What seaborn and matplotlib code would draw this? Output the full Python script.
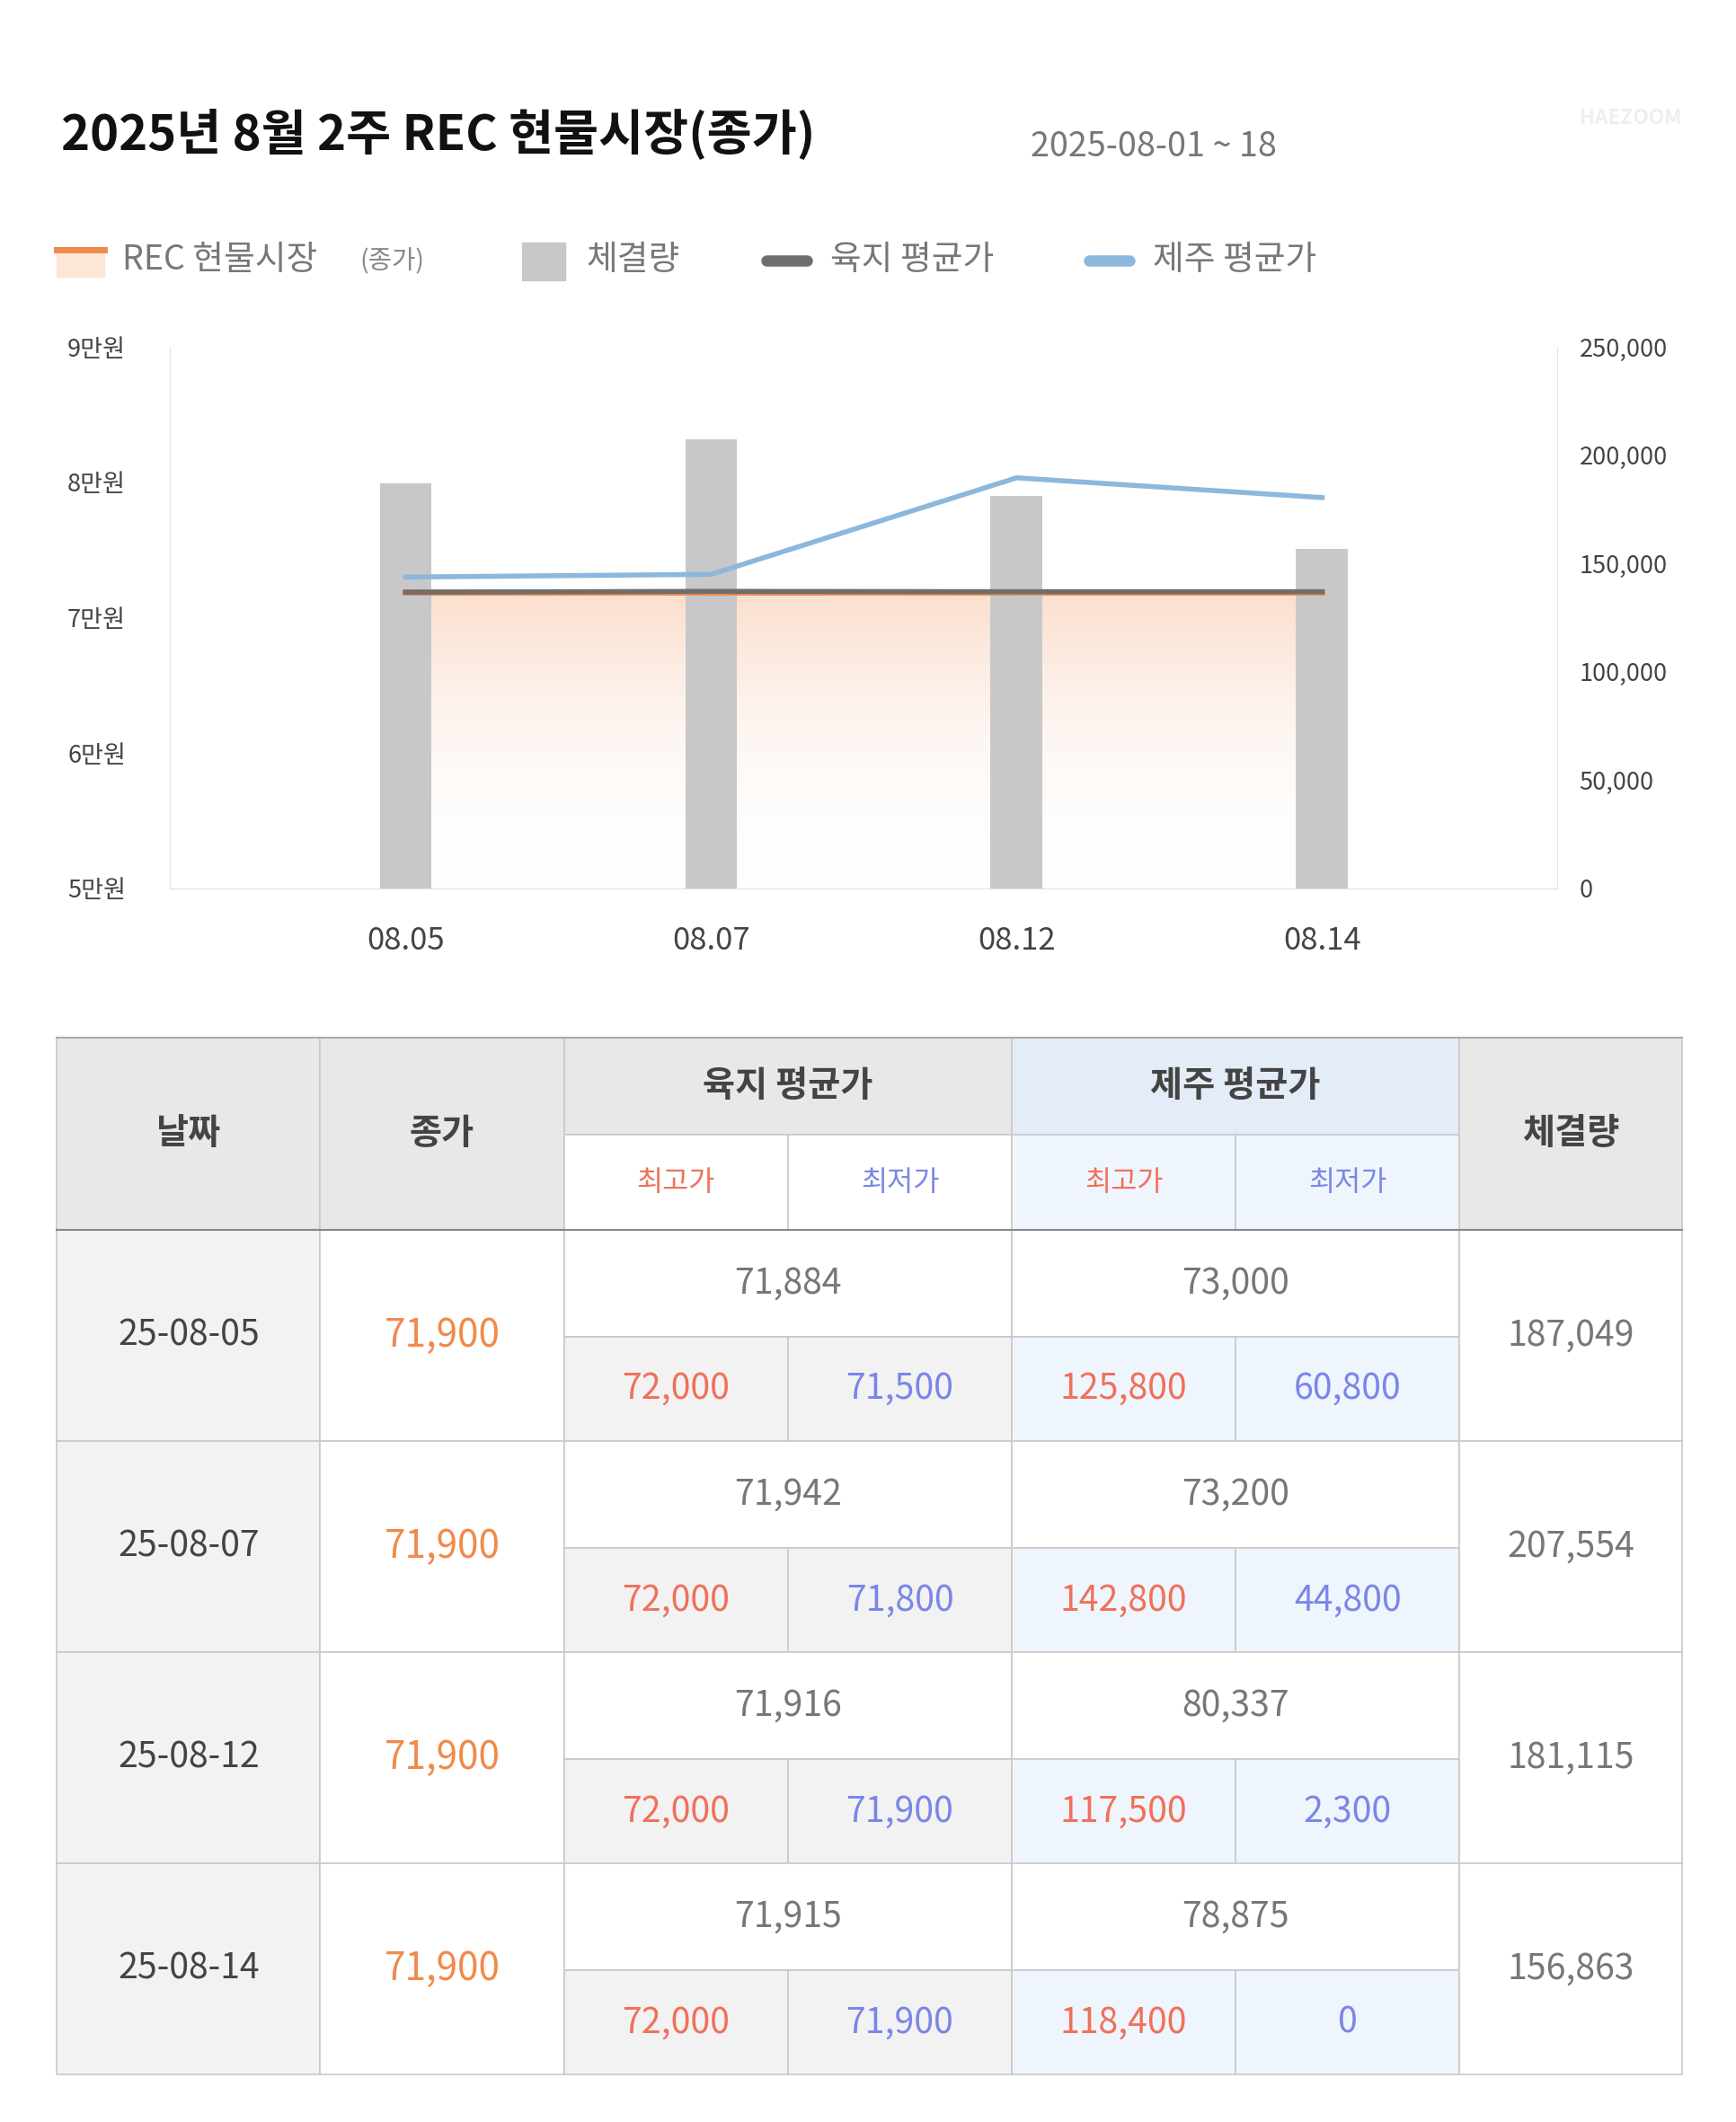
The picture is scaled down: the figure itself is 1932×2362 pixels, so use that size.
import numpy as np
import pandas as pd
import matplotlib
matplotlib.use("Agg")
import matplotlib.pyplot as plt
import seaborn as sns
from matplotlib.patches import Rectangle

plt.rcParams["font.family"] = ["Noto Sans CJK KR", "Noto Sans CJK JP", "Noto Sans CJK SC", "DejaVu Sans"]

dates = ["08.05", "08.07", "08.12", "08.14"]
full_dates = ["25-08-05", "25-08-07", "25-08-12", "25-08-14"]
close = [71900, 71900, 71900, 71900]
volume = [187049, 207554, 181115, 156863]
land_avg = [71884, 71942, 71916, 71915]
land_hi = [72000, 72000, 72000, 72000]
land_lo = [71500, 71800, 71900, 71900]
jeju_avg = [73000, 73200, 80337, 78875]
jeju_hi = [125800, 142800, 117500, 118400]
jeju_lo = [60800, 44800, 2300, 0]

W, H = 1280, 1565  # layout units (scaled to 1932x2362 px)
fig = plt.figure(figsize=(19.32, 23.62), dpi=100)
S = 1.509 * 0.72  # layout px -> pt

def fx(x): return x / W
def fy(y): return 1 - y / H

# ---------- chart ----------
ax = fig.add_axes([fx(125), fy(655), fx(1148 - 125), (655 - 256) / H])
df = pd.DataFrame({"date": dates, "volume": volume})
sns.barplot(data=df, x="date", y="volume", color="#c8c8c8", width=0.17,
            saturation=1, ax=ax, zorder=2)
xs = np.arange(len(dates))
grad = np.linspace(0, 1, 256).reshape(-1, 1)
cmap = matplotlib.colors.LinearSegmentedColormap.from_list(
    "g", [(1, 1, 1, 0.0), (0.98, 0.83, 0.74, 0.75)])
ax.imshow(grad, extent=[0, 3, 0, (max(close) - 50000) / 40000 * 250000],
          origin="lower", aspect="auto", cmap=cmap, zorder=1)
ax.set_ylim(0, 250000)
ax.set_xlim(-0.773, 3.769)
ax.set_xlabel(""); ax.set_ylabel("")
ax.spines["top"].set_visible(False)
for s in ["left", "right", "bottom"]:
    ax.spines[s].set_color("#e2e2e2")

ax2 = ax.twinx()
ax.yaxis.tick_right()
ax.set_yticks(range(0, 250001, 50000))
ax.set_yticklabels([f"{v:,}" for v in range(0, 250001, 50000)])
ax.tick_params(axis="y", length=0, labelsize=18 * S, labelcolor="#444", pad=18)
ax.tick_params(axis="x", length=0, labelsize=23 * S, labelcolor="#444", pad=30)
ax2.yaxis.tick_left()
ax2.set_ylim(50000, 90000)
ax2.set_yticks([50000, 60000, 70000, 80000, 90000])
ax2.set_yticklabels(["5만원", "6만원", "7만원", "8만원", "9만원"])
ax2.tick_params(axis="y", length=0, labelsize=18 * S, labelcolor="#444", pad=35)
for s in ["top", "right", "left", "bottom"]:
    ax2.spines[s].set_visible(False)
sns.lineplot(x=xs, y=close, color="#f08a4b", lw=5, ax=ax2)
sns.lineplot(x=xs, y=land_avg, color="#6e6e6e", lw=4, ax=ax2)
sns.lineplot(x=xs, y=jeju_avg, color="#8bb8dc", lw=4, ax=ax2)
ax2.set_xlim(-0.773, 3.769)
ax2.set_ylim(50000, 90000)

# ---------- overlay ----------
ov = fig.add_axes([0, 0, 1, 1], zorder=-1)
ov.set_xlim(0, W); ov.set_ylim(H, 0); ov.axis("off")
ov.text(45, 100, "2025년 8월 2주 REC 현물시장(종가)", fontsize=36 * S,
        fontweight="bold", color="#111", va="center")
ov.text(760, 108, "2025-08-01 ~ 18", fontsize=25 * S, color="#777", va="center")
ov.text(1240, 87, "HAEZOOM", fontsize=15 * S, color="#eeeeee", ha="right",
        va="center", fontweight="bold")

# legend
ly = 192
ov.add_patch(Rectangle((42, 182), 35, 22, color="#fde5d8"))
ov.plot([42, 77], [184, 184], color="#f08a4b", lw=5)
ov.text(90, ly, "REC 현물시장", fontsize=25 * S, color="#777", va="center")
ov.text(265, ly + 1, "(종가)", fontsize=19 * S, color="#888", va="center")
ov.add_patch(Rectangle((385, 179), 32, 28, color="#c8c8c8"))
ov.text(432, ly, "체결량", fontsize=25 * S, color="#777", va="center")
ov.plot([565, 595], [192, 192], color="#6e6e6e", lw=9, solid_capstyle="round")
ov.text(612, ly, "육지 평균가", fontsize=25 * S, color="#777", va="center")
ov.plot([803, 833], [192, 192], color="#8bb8dc", lw=9, solid_capstyle="round")
ov.text(850, ly, "제주 평균가", fontsize=25 * S, color="#777", va="center")

# ---------- table ----------
cx = [42, 236, 416, 581, 746, 911, 1076, 1240]
GRAY, HBLUE, LBLUE, DGRAY = "#e8e8e8", "#e3ecf7", "#eff5fd", "#f2f2f2"
RED, BLUE, ORANGE, TXT = "#f0705a", "#7a86e8", "#f08a4b", "#777777"
line = "#c9c9c9"

def cell(x0, y0, x1, y1, fc, text="", color=TXT, size=26, bold=False):
    ov.add_patch(Rectangle((x0, y0), x1 - x0, y1 - y0, facecolor=fc,
                           edgecolor=line, lw=1.2))
    if text != "":
        ov.text((x0 + x1) / 2, (y0 + y1) / 2, text, ha="center", va="center",
                fontsize=size * S, color=color,
                fontweight="bold" if bold else "normal")

cell(cx[0], 765, cx[1], 907, GRAY, "날짜", "#444", 26, True)
cell(cx[1], 765, cx[2], 907, GRAY, "종가", "#444", 26, True)
cell(cx[2], 765, cx[4], 837, GRAY, "육지 평균가", "#444", 26, True)
cell(cx[4], 765, cx[6], 837, HBLUE, "제주 평균가", "#444", 26, True)
cell(cx[6], 765, cx[7], 907, GRAY, "체결량", "#444", 26, True)
cell(cx[2], 837, cx[3], 907, "white", "최고가", RED, 21)
cell(cx[3], 837, cx[4], 907, "white", "최저가", BLUE, 21)
cell(cx[4], 837, cx[5], 907, LBLUE, "최고가", RED, 21)
cell(cx[5], 837, cx[6], 907, LBLUE, "최저가", BLUE, 21)

for i in range(len(full_dates)):
    y0 = 907 + i * 155.75
    ym = y0 + 79
    y1 = y0 + 155.75
    cell(cx[0], y0, cx[1], y1, DGRAY, full_dates[i], "#444", 26)
    cell(cx[1], y0, cx[2], y1, "white", f"{close[i]:,}", ORANGE, 28)
    cell(cx[2], y0, cx[4], ym, "white", f"{land_avg[i]:,}", TXT, 26)
    cell(cx[4], y0, cx[6], ym, "white", f"{jeju_avg[i]:,}", TXT, 26)
    cell(cx[2], ym, cx[3], y1, DGRAY, f"{land_hi[i]:,}", RED, 26)
    cell(cx[3], ym, cx[4], y1, DGRAY, f"{land_lo[i]:,}", BLUE, 26)
    cell(cx[4], ym, cx[5], y1, LBLUE, f"{jeju_hi[i]:,}", RED, 26)
    cell(cx[5], ym, cx[6], y1, LBLUE, f"{jeju_lo[i]:,}", BLUE, 26)
    cell(cx[6], y0, cx[7], y1, "white", f"{volume[i]:,}", TXT, 26)

ov.plot([42, 1240], [907, 907], color="#888", lw=1.5)
ov.plot([42, 1240], [765, 765], color="#aaa", lw=1.5)

fig.savefig("out.png", dpi=100, facecolor="white")
